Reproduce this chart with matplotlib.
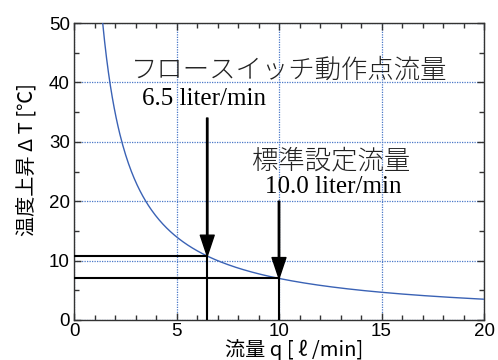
import numpy as np
import matplotlib
matplotlib.use("Agg")
import matplotlib.pyplot as plt
from matplotlib.ticker import MultipleLocator

# Data
k_const = 70.0                      # ΔT = k / q
q_curve = np.linspace(1.4, 20, 400)
dT_curve = k_const / q_curve
q_points = [6.5, 10.0]
dT_points = [k_const / q for q in q_points]
arrow_tops = [34.0, 20.0]
x_ticks = [0, 5, 10, 15, 20]
y_ticks = [0, 10, 20, 30, 40, 50]

jp_sans = ['Noto Sans CJK JP', 'DejaVu Sans']
serif = ['Liberation Serif', 'Noto Sans CJK JP']

fig = plt.figure(figsize=(4.98, 3.6), dpi=100)
ax = fig.add_axes([74/498, 1-320/360, 410/498, 297/360])

ax.set_xlim(0, 20)
ax.set_ylim(0, 50)
ax.set_xticks(x_ticks)
ax.set_yticks(y_ticks)
ax.xaxis.set_minor_locator(MultipleLocator(1))
ax.yaxis.set_minor_locator(MultipleLocator(5))
ax.tick_params(which='both', direction='in', top=True, right=True, width=1, color='#333333')
ax.tick_params(which='major', length=5, labelsize=13.5)
ax.tick_params(which='minor', length=3.5)
ax.tick_params(axis='x', pad=2)
ax.tick_params(axis='y', pad=3)
for lab in ax.get_xticklabels() + ax.get_yticklabels():
    lab.set_family(['Liberation Sans'])
ax.grid(True, which='major', color='#4a78c8', linestyle=(0, (1, 1)), linewidth=0.9)
for s in ax.spines.values():
    s.set_linewidth(1.0)
    s.set_color('#333333')

ax.plot(q_curve, dT_curve, color='#3a62b5', linewidth=1.0, zorder=3)

for q, dT, top in zip(q_points, dT_points, arrow_tops):
    ax.plot([0, q], [dT, dT], color='black', linewidth=1.5, zorder=4)
    ax.plot([q, q], [0, dT], color='black', linewidth=1.5, zorder=4)
    ax.annotate('', xy=(q, dT), xytext=(q, top),
                arrowprops=dict(facecolor='black', edgecolor='black', width=1.0,
                                headwidth=10, headlength=15, shrink=0), zorder=5)

ax.text(10.5, 42.1, 'フロースイッチ動作点流量', fontsize=19, family=jp_sans,
        ha='center', va='center', color='#222222', fontweight='light')
ax.text(3.3, 37.2, '6.5 liter/min', fontsize=18, family=serif, ha='left', va='center')
ax.text(8.7, 26.9, '標準設定流量', fontsize=19, family=jp_sans, ha='left', va='center',
        color='#222222', fontweight='light')
ax.text(9.3, 22.4, '10.0 liter/min', fontsize=18, family=serif, ha='left', va='center')

fig.text(27/498, 1-160/360, '温度上昇 Δ T [℃]', rotation=90, fontsize=14.5, family=jp_sans,
         ha='center', va='center')
fig.text(294/498, 1-350/360, '流量 q [ ℓ /min]', fontsize=14.5, family=jp_sans,
         ha='center', va='center')

fig.savefig('out.png', dpi=100)
